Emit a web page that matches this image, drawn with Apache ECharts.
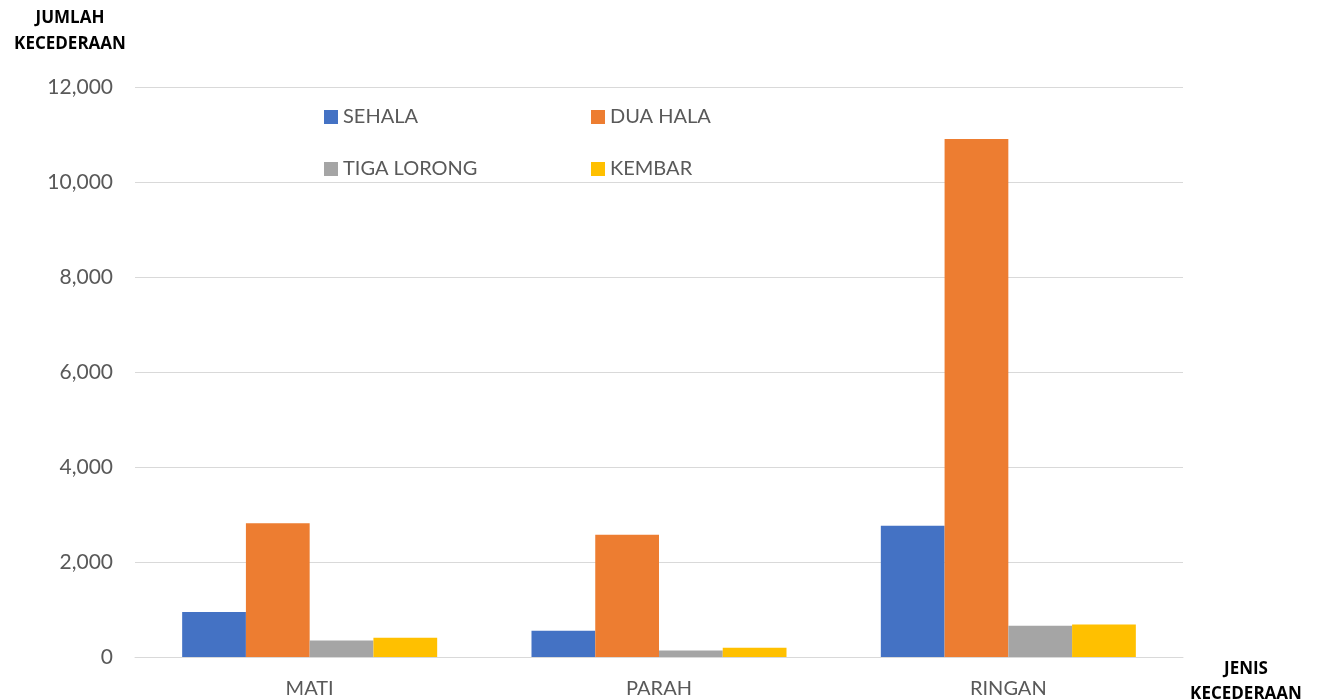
<!DOCTYPE html>
<html><head><meta charset="utf-8">
<script src="https://cdn.jsdelivr.net/npm/echarts@6/dist/echarts.min.js"></script>
<style>html,body{margin:0;padding:0;background:#fff}#c{width:1324px;height:700px}</style>
</head><body><div id="c"></div>
<script>
const categories = ['MATI', 'PARAH', 'RINGAN'];
const seriesNames = ['SEHALA', 'DUA HALA', 'TIGA LORONG', 'KEMBAR'];
const sehala = [945, 555, 2765];
const duaHala = [2815, 2575, 10905];
const tigaLorong = [350, 135, 660];
const kembar = [405, 195, 685];
const colors = ['#4472C4', '#ED7D31', '#A5A5A5', '#FFC000'];
const yTicks = { min: 0, max: 12000, interval: 2000 };

const values = [sehala, duaHala, tigaLorong, kembar];
const font = 'Lato, "Open Sans", sans-serif';
const nameFont = '"Open Sans", sans-serif';
const legendPos = [[319, 102], [586, 102], [319, 154], [586, 154]];

const chart = echarts.init(document.getElementById('c'));
chart.setOption({
  animation: false,
  color: colors,
  grid: { left: 135, right: 141, top: 87, bottom: 43, outerBoundsMode: 'none', containLabel: false },
  legend: seriesNames.map((n, i) => ({
    data: [n], left: legendPos[i][0], top: legendPos[i][1],
    icon: 'rect', itemWidth: 14, itemHeight: 14, itemGap: 4,
    textStyle: { color: '#595959', fontSize: 20, fontFamily: font }
  })),
  xAxis: {
    type: 'category', data: categories,
    axisLine: { lineStyle: { color: '#D9D9D9', width: 1 } },
    axisTick: { show: false },
    axisLabel: { color: '#595959', fontSize: 20, fontFamily: font, margin: 22 },
    name: 'JENIS\nKECEDERAAN', nameLocation: 'end', nameGap: 4,
    nameTextStyle: { color: '#000', fontWeight: 'bold', fontSize: 17, fontFamily: nameFont, align: 'center', verticalAlign: 'top', lineHeight: 25, padding: [0, 0, 0, 118] }
  },
  yAxis: {
    type: 'value', min: yTicks.min, max: yTicks.max, interval: yTicks.interval,
    axisLine: { show: false }, axisTick: { show: false },
    splitLine: { lineStyle: { color: '#D9D9D9', width: 1 } },
    axisLabel: { color: '#595959', fontSize: 21, fontFamily: font, margin: 22,
      formatter: v => v.toLocaleString('en-US') },
    name: 'JUMLAH\nKECEDERAAN', nameLocation: 'end', nameGap: 30,
    nameTextStyle: { color: '#000', fontWeight: 'bold', fontSize: 17, fontFamily: nameFont, align: 'center', lineHeight: 26, padding: [0, 130, 0, 0] }
  },
  series: seriesNames.map((n, i) => ({
    name: n, type: 'bar', data: values[i],
    barGap: '0%', barCategoryGap: '27%',
    itemStyle: { color: colors[i] }
  }))
});
</script></body></html>
